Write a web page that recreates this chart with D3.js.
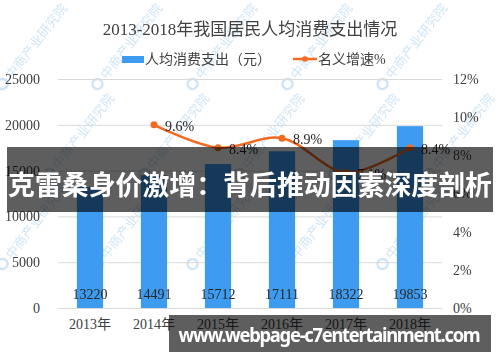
<!DOCTYPE html>
<html>
<head>
<meta charset="utf-8">
<script src="https://cdn.jsdelivr.net/npm/d3@7"></script>
<style>
  html, body { margin: 0; padding: 0; background: #fff; }
  #chart { width: 500px; height: 362px; }
</style>
</head>
<body>
<div id="chart"></div>
<script>
// data
const years = ['2013年', '2014年', '2015年', '2016年', '2017年', '2018年'];
const spending = [13220, 14491, 15712, 17111, 18322, 19853];
const growth = [null, 9.6, 8.4, 8.9, 7.1, 8.4];
const leftTicks = [0, 5000, 10000, 15000, 20000, 25000];
const rightTicks = [0, 2, 4, 6, 8, 10, 12];

const W = 500, H = 362;
const m = { top: 79, right: 58, bottom: 54, left: 58 };
const BLUE = '#3d9cf0', ORANGE = '#f26a21';
const SERIF = '"Liberation Serif", "Noto Sans CJK SC", serif';

const svg = d3.select('#chart').append('svg').attr('width', W).attr('height', H);

// faint watermark tiles, kept inside the frame
const wm = svg.append('g').attr('opacity', 0.55);
for (let r = 0; r < 5; r++) {
  for (let c = 0; c < 6; c++) {
    const wx = c * 95 + (r % 2) * 47 + 12;
    const wy = r * 90 + 80;
    if (wx + 60 > W || wy > 300 || wy - 75 < 0) continue;
    const g = wm.append('g').attr('transform', `translate(${wx},${wy}) rotate(-52)`);
    g.append('circle').attr('cx', -9).attr('cy', -5).attr('r', 5)
      .attr('fill', 'none').attr('stroke', '#a9d0ee').attr('stroke-width', 2.5);
    g.append('text').attr('x', 0).attr('y', 0)
      .attr('font-family', '"Noto Sans CJK SC", sans-serif').attr('font-size', '13px')
      .attr('fill', '#a9d0ee').text('中商产业研究院');
  }
}

const x = d3.scaleBand().domain(years).range([m.left, W - m.right])
  .paddingInner(0.59).paddingOuter(0.295);
const y = d3.scaleLinear().domain([0, 25000]).range([H - m.bottom, m.top]);
const y2 = d3.scaleLinear().domain([0, 12]).range([H - m.bottom, m.top]);

// title
svg.append('text').attr('x', 250).attr('y', 35).attr('text-anchor', 'middle')
  .attr('font-family', SERIF).attr('font-size', '17px').attr('fill', '#404040')
  .text('2013-2018年我国居民人均消费支出情况');

// legend
svg.append('rect').attr('x', 122).attr('y', 56).attr('width', 22).attr('height', 7).attr('fill', BLUE);
svg.append('text').attr('x', 145).attr('y', 64).attr('font-family', SERIF).attr('font-size', '14px')
  .attr('fill', '#404040').text('人均消费支出（元）');
svg.append('line').attr('x1', 293).attr('x2', 317).attr('y1', 59).attr('y2', 59)
  .attr('stroke', ORANGE).attr('stroke-width', 2.5);
svg.append('circle').attr('cx', 305).attr('cy', 59).attr('r', 2.8).attr('fill', ORANGE);
svg.append('text').attr('x', 318).attr('y', 64).attr('font-family', SERIF).attr('font-size', '14px')
  .attr('fill', '#404040').text('名义增速%');

// left axis + grid
const ga = svg.append('g').attr('transform', `translate(${m.left},0)`)
  .call(d3.axisLeft(y).tickValues(leftTicks).tickSize(-(W - m.left - m.right))
    .tickPadding(18).tickFormat(d3.format('d')));
ga.select('.domain').remove();
ga.selectAll('.tick line').attr('stroke', '#d9d9d9');
ga.selectAll('.tick text').attr('font-family', SERIF).attr('font-size', '14px').attr('fill', '#404040');

// right axis
const gr = svg.append('g').attr('transform', `translate(${W - m.right},0)`)
  .call(d3.axisRight(y2).tickValues(rightTicks).tickSize(0).tickPadding(11).tickFormat(d => d + '%'));
gr.select('.domain').remove();
gr.selectAll('.tick text').attr('font-family', SERIF).attr('font-size', '14px').attr('fill', '#404040');

// x axis labels
const gx = svg.append('g').attr('transform', `translate(0,${H - m.bottom})`)
  .call(d3.axisBottom(x).tickSize(0).tickPadding(11));
gx.select('.domain').attr('stroke', '#d9d9d9');
gx.selectAll('.tick text').attr('font-family', SERIF).attr('font-size', '14px').attr('fill', '#404040');

// bars
svg.selectAll('.bar').data(spending).join('rect').attr('class', 'bar')
  .attr('x', (d, i) => x(years[i])).attr('width', x.bandwidth())
  .attr('y', d => y(d)).attr('height', d => y(0) - y(d)).attr('fill', BLUE);

svg.selectAll('.blab').data(spending).join('text').attr('class', 'blab')
  .attr('x', (d, i) => x(years[i]) + x.bandwidth() / 2).attr('y', y(0) - 9)
  .attr('text-anchor', 'middle').attr('font-family', SERIF).attr('font-size', '14px')
  .attr('fill', '#262626').text(d => d);

// growth line
const pts = growth.map((v, i) => ({ x: x(years[i]) + x.bandwidth() / 2, v })).filter(d => d.v != null);
svg.append('path').datum(pts)
  .attr('d', d3.line().x(d => d.x).y(d => y2(d.v)).curve(d3.curveCatmullRom))
  .attr('fill', 'none').attr('stroke', ORANGE).attr('stroke-width', 2.5);
svg.selectAll('.pt').data(pts).join('circle').attr('class', 'pt')
  .attr('cx', d => d.x).attr('cy', d => y2(d.v)).attr('r', 3.5).attr('fill', ORANGE);
svg.selectAll('.plab').data(pts).join('text').attr('class', 'plab')
  .attr('x', d => d.x + 11).attr('y', d => y2(d.v) + 6)
  .attr('font-family', SERIF).attr('font-size', '14px').attr('fill', '#262626')
  .text(d => d.v.toFixed(1) + '%');

// headline overlay band
svg.append('rect').attr('x', 7).attr('y', 147).attr('width', 486).attr('height', 65)
  .attr('fill', 'rgba(0,0,0,0.63)');
svg.append('text').attr('x', 250).attr('y', 195).attr('text-anchor', 'middle')
  .attr('font-family', '"Noto Sans CJK SC", sans-serif').attr('font-size', '27px')
  .attr('font-weight', 'bold').attr('fill', '#fff')
  .attr('textLength', 484).attr('lengthAdjust', 'spacingAndGlyphs')
  .text('克雷桑身价激增：背后推动因素深度剖析');

// site banner
svg.append('rect').attr('x', 169).attr('y', 315).attr('width', 322).attr('height', 37)
  .attr('fill', 'rgba(0,0,0,0.63)');
svg.append('text').attr('x', 329).attr('y', 342).attr('text-anchor', 'middle')
  .attr('font-family', '"Noto Sans", sans-serif').attr('font-size', '19px')
  .attr('font-weight', 'bold').attr('fill', '#fff').attr('letter-spacing', '-1.3px')
  .attr('textLength', 301).attr('lengthAdjust', 'spacingAndGlyphs')
  .text('www.webpage-c7entertainment.com');
</script>
</body>
</html>
